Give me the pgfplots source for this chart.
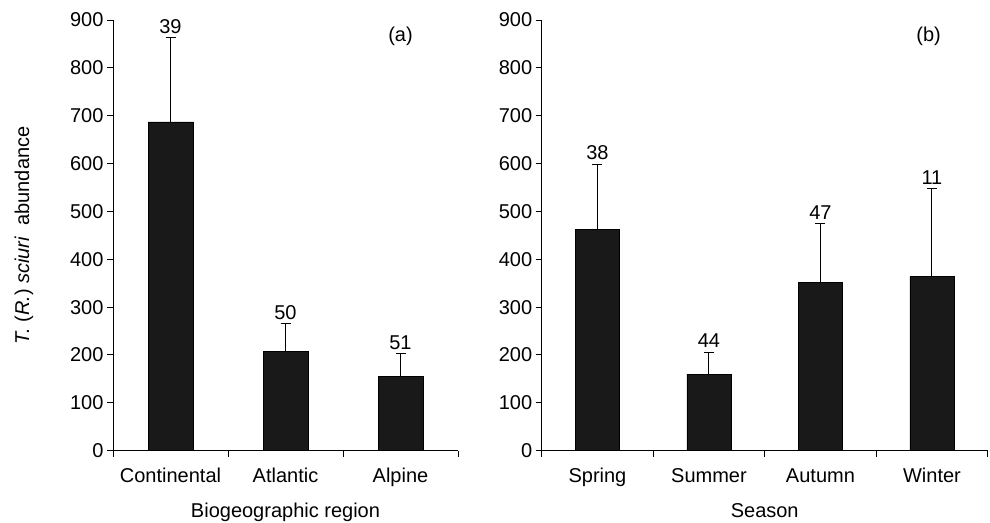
\documentclass[border=0pt]{standalone}
\usepackage{pgfplots}
\usepackage{pgfplotstable}
\pgfplotsset{compat=1.18}
\usepackage{fontspec}
\setmainfont{Liberation Sans}
\pgfplotstableread{
x y e n
0.5 687 176 39
1.5 208 58 50
2.5 155 48 51
}\regiondata
\pgfplotstableread{
x y e n
0.5 463 136 38
1.5 160 46 44
2.5 351 123 47
3.5 364 184 11
}\seasondata
\begin{document}
\begin{tikzpicture}
\useasboundingbox (0,0) rectangle (990pt,-522pt);
\pgfplotsset{
 panel/.style={
  scale only axis, height=430.7pt, ymin=0, ymax=900, ytick={0,100,...,900},
  axis x line*=bottom, axis y line*=left,
  axis line style={line width=1pt, -},
  tick align=outside, major tick length=6pt,
  every tick/.style={black, line width=1pt},
  font=\fontsize{20}{24}\selectfont,
  /pgf/number format/assume math mode=true,
  xticklabels={{},{},{},{},{}},
  extra x tick style={major tick length=0pt},
  xticklabel style={yshift=-14pt},
  xlabel style={at={(axis description cs:0.5,0)}, anchor=base, yshift=-67pt},
  clip=false,
 },
 barstyle/.style={ybar, fill=black!90, draw=black, line width=0.8pt,
   error bars/y dir=plus, error bars/y explicit, error bars/error mark=-,
   error bars/error mark options={rotate=90, draw=black, mark size=5pt, line width=1pt},
   error bars/error bar style={black, line width=1pt}},
 countstyle/.style={draw=none, mark=none, nodes near coords, point meta=explicit symbolic,
   every node near coord/.append style={anchor=south, inner sep=4pt, black, font=\fontsize{20}{24}\selectfont}},
}
\begin{axis}[panel, at={(113pt,-450.7pt)}, anchor=south west, width=345pt,
  xmin=0, xmax=3, xtick={0,1,2,3},
  extra x ticks={0.5,1.5,2.5}, extra x tick labels={Continental,Atlantic,Alpine},
  xlabel={Biogeographic region},
  ylabel={\textit{T.} (\textit{R.}) \textit{sciuri}\ \ abundance},
  ylabel style={at={(axis description cs:-0.258,0.5)}, anchor=center},
]
\addplot[bar width=45pt, barstyle] table[x=x, y=y, y error=e] {\regiondata};
\addplot[countstyle] table[x=x, y expr=\thisrow{y}+\thisrow{e}, meta=n] {\regiondata};
\node at (axis cs:2.5,865) {(a)};
\end{axis}
\begin{axis}[panel, at={(541.7pt,-450.7pt)}, anchor=south west, width=446pt,
  xmin=0, xmax=4, xtick={0,1,2,3,4},
  extra x ticks={0.5,1.5,2.5,3.5}, extra x tick labels={Spring,Summer,Autumn,Winter},
  xlabel={Season},
]
\addplot[bar width=44pt, barstyle] table[x=x, y=y, y error=e] {\seasondata};
\addplot[countstyle] table[x=x, y expr=\thisrow{y}+\thisrow{e}, meta=n] {\seasondata};
\node at (axis cs:3.47,865) {(b)};
\end{axis}
\end{tikzpicture}
\end{document}
